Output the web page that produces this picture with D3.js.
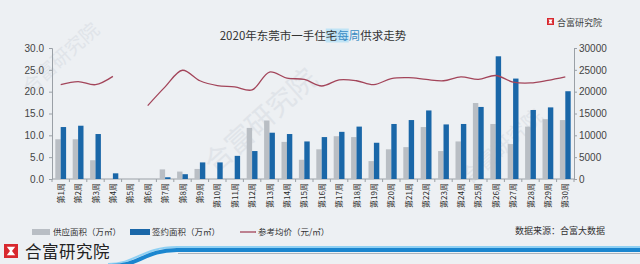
<!DOCTYPE html>
<html>
<head>
<meta charset="utf-8">
<script src="https://cdn.jsdelivr.net/npm/d3@7"></script>
<style>
	body { margin: 0; background: #edf0f3; position: relative; width: 640px; height: 264px; overflow: hidden; }
	svg { display: block; position: absolute; left: 0; top: 0; font-family: "Noto Sans CJK SC", "Noto Sans", sans-serif; }
	.stripe { position: absolute; left: 176px; width: 464px; }
</style>
</head>
<body>
<div class="stripe" style="top:246px;height:2px;background:#8fd0f3"></div>
<div class="stripe" style="top:248px;height:4px;background:#1b86cf"></div>
<div class="stripe" style="top:253px;height:1px;background:#aab3bc;left:178px"></div>
<svg id="chart" width="640" height="264"></svg>
<script>
// weeks 1..30
const weeks = d3.range(1, 31).map(d => `第${d}周`);
// 供应面积 (万㎡)
const supply = [9.1, 9.1, 4.3, 0, 0, 0, 2.2, 1.7, 2.3, 0,
	0, 11.7, 13.4, 8.5, 4.4, 6.8, 9.8, 9.6, 4.1, 6.8,
	7.3, 11.9, 6.4, 8.6, 17.4, 12.6, 8.0, 12.0, 13.7, 13.5];
// 签约面积 (万㎡)
const signed = [11.9, 12.2, 10.3, 1.3, 0, 0, 0.4, 1.1, 3.8, 3.8,
	5.3, 6.4, 10.6, 10.3, 8.6, 9.6, 10.8, 12.0, 8.3, 12.6,
	13.5, 15.7, 12.5, 12.6, 16.5, 28.1, 23.0, 15.8, 16.4, 20.1];
// 参考均价 (元/㎡), week 5 has no value
const price = [21600, 22300, 21600, 23500, null, 16800, 21100, 24900, 22500, 21400,
	21100, 20400, 24500, 23100, 22800, 21300, 22700, 22500, 21600, 23000,
	23200, 22800, 22500, 23400, 22800, 23700, 22200, 22000, 22600, 23400];
const leftTicks = [0, 5, 10, 15, 20, 25, 30];
const rightTicks = [0, 5000, 10000, 15000, 20000, 25000, 30000];

const svg = d3.select("#chart");
const mLeft = 52, mRight = 574, mTop = 48, mBottom = 179;

/* -------------------- bottom banner ---------------------- */
svg.append("rect").attr("x", 176).attr("y", 246).attr("width", 464).attr("height", 2)
	.attr("fill", "#8fd0f3");
svg.append("rect").attr("x", 176).attr("y", 248).attr("width", 464).attr("height", 4)
	.attr("fill", "#1b86cf");
svg.append("path").attr("d", "M108,264 C136,264 142,247 177,247")
	.attr("fill", "none").attr("stroke", "#8fd0f3").attr("stroke-width", 2);
svg.append("path").attr("d", "M111,266 C139,266 145,250 177,250")
	.attr("fill", "none").attr("stroke", "#1b86cf").attr("stroke-width", 4);

/* -------------------- watermarks ---------------------- */
const wm = svg.append("g").attr("fill", "#e0e4e9");
[[30, 95, 19], [215, 175, 28], [470, 185, 20]].forEach(([x, y, s]) => {
	wm.append("text").attr("transform", `translate(${x},${y}) rotate(-42)`)
		.attr("font-size", s).text("合富研究院");
});

/* -------------------- scales ---------------------- */
const x = d3.scaleBand().domain(weeks).range([mLeft, mRight]).paddingInner(0).paddingOuter(0);
const x1 = d3.scaleBand().domain(["s", "g"]).range([x.bandwidth() / 2 - 5.4, x.bandwidth() / 2 + 5.4]);
const yL = d3.scaleLinear().domain([0, 30]).range([mBottom, mTop]);
const yR = d3.scaleLinear().domain([0, 30000]).range([mBottom, mTop]);

/* -------------------- axes ---------------------- */
const axL = svg.append("g").attr("transform", `translate(${mLeft},0)`)
	.call(d3.axisLeft(yL).tickValues(leftTicks).tickFormat(d3.format(".1f")).tickSizeOuter(0).tickSize(3));
const axR = svg.append("g").attr("transform", `translate(${mRight},0)`)
	.call(d3.axisRight(yR).tickValues(rightTicks).tickFormat(d => d).tickSizeOuter(0).tickSize(3));
[axL, axR].forEach(ax => {
	ax.selectAll("path,line").attr("stroke", "#9aa0a6");
	ax.selectAll("text").attr("font-size", 10).attr("fill", "#444")
		.attr("font-family", "Liberation Sans, sans-serif");
});
axL.selectAll("text").attr("x", -8);
axR.selectAll("text").attr("x", 5);

const axX = svg.append("g").attr("transform", `translate(0,${mBottom})`);
axX.append("line").attr("x1", mLeft).attr("x2", mRight).attr("stroke", "#9aa0a6");
axX.selectAll(".tk").data(d3.range(31)).join("line")
	.attr("x1", i => mLeft + i * x.step()).attr("x2", i => mLeft + i * x.step())
	.attr("y1", 0).attr("y2", 3).attr("stroke", "#9aa0a6");
axX.selectAll(".lbl").data(weeks).join("text")
	.attr("transform", d => `translate(${x(d) + x.bandwidth() / 2 + 3},4) rotate(-90)`)
	.attr("text-anchor", "end").attr("font-size", 8).attr("fill", "#2a2a2a").text(d => d);

/* -------------------- bars ---------------------- */
const bars = svg.append("g");
bars.selectAll(".s").data(supply).join("rect")
	.attr("x", (d, i) => x(weeks[i]) + x1("s")).attr("width", x1.bandwidth())
	.attr("y", d => yL(d)).attr("height", d => mBottom - yL(d)).attr("fill", "#b9bec4");
bars.selectAll(".g").data(signed).join("rect")
	.attr("x", (d, i) => x(weeks[i]) + x1("g")).attr("width", x1.bandwidth())
	.attr("y", d => yL(d)).attr("height", d => mBottom - yL(d)).attr("fill", "#1a67a8");

/* -------------------- price line ---------------------- */
const line = d3.line()
	.defined(d => d !== null)
	.x((d, i) => x(weeks[i]) + x.bandwidth() / 2)
	.y(d => yR(d))
	.curve(d3.curveCatmullRom);
svg.append("path").datum(price).attr("d", line)
	.attr("fill", "none").attr("stroke", "#a3455a").attr("stroke-width", 1.3);

/* -------------------- title ---------------------- */
const hlRect = svg.append("rect").attr("fill", "#bfe3f5");
const title = svg.append("text").attr("x", 313).attr("y", 40).attr("text-anchor", "middle")
	.attr("font-size", 11.5).attr("fill", "#333");
title.append("tspan").text("2020年东莞市一手住宅");
title.append("tspan").attr("fill", "#3a8cc4").text("每周");
title.append("tspan").text("供求走势");
const bb = title.node().getBBox();
const hl = title.node().getSubStringLength(0, 11);
const hw = title.node().getSubStringLength(11, 2);
hlRect.attr("x", bb.x + hl).attr("y", bb.y + 1.5).attr("width", hw).attr("height", bb.height - 2);

function hourglass(g, x0, y0, s) {
	g.append("rect").attr("x", x0).attr("y", y0).attr("width", s).attr("height", s).attr("fill", "#d8282e");
	const p = s * 0.2;
	g.append("path").attr("fill", "#fff")
		.attr("d", `M${x0 + p},${y0 + p}H${x0 + s - p}L${x0 + s / 2 + 1},${y0 + s / 2}L${x0 + s - p},${y0 + s - p}H${x0 + p}L${x0 + s / 2 - 1},${y0 + s / 2}Z`);
}

/* -------------------- top-right logo ---------------------- */
hourglass(svg.append("g"), 547, 18, 7);
svg.append("text").attr("x", 557).attr("y", 25.5).attr("font-size", 9).attr("fill", "#444").text("合富研究院");

/* -------------------- legend ---------------------- */
const lg = svg.append("g").attr("font-size", 8.5).attr("fill", "#333");
lg.append("rect").attr("x", 32).attr("y", 229).attr("width", 18).attr("height", 6).attr("fill", "#b9bec4");
lg.append("text").attr("x", 53).attr("y", 235).text("供应面积（万㎡）");
lg.append("rect").attr("x", 130).attr("y", 229).attr("width", 20).attr("height", 6).attr("fill", "#1a67a8");
lg.append("text").attr("x", 152).attr("y", 235).text("签约面积（万㎡）");
lg.append("line").attr("x1", 240).attr("x2", 256).attr("y1", 232).attr("y2", 232).attr("stroke", "#a3455a").attr("stroke-width", 1.3);
lg.append("text").attr("x", 258).attr("y", 235).text("参考均价（元/㎡）");
svg.append("text").attr("x", 605).attr("y", 234).attr("text-anchor", "end")
	.attr("font-size", 9).attr("fill", "#333").text("数据来源：合富大数据");

/* -------------------- bottom logo ---------------------- */
hourglass(svg.append("g"), 4, 244, 14);
svg.append("text").attr("x", 25).attr("y", 258).attr("font-size", 16.5).attr("fill", "#222")
	.attr("letter-spacing", 0.5).text("合富研究院");
</script>
</body>
</html>
